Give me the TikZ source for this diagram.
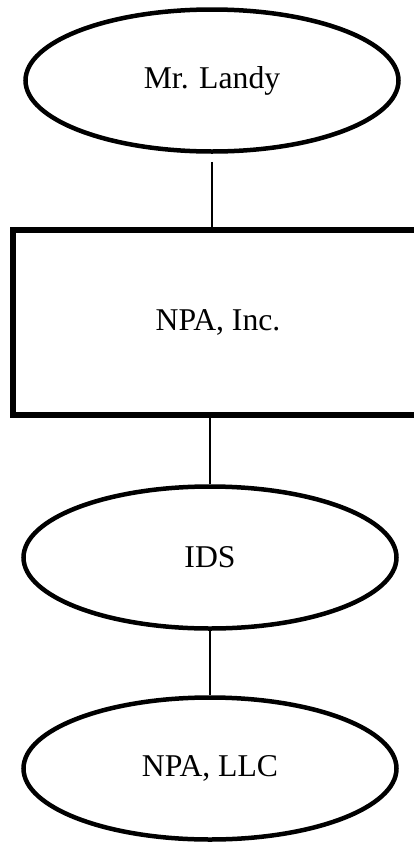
\documentclass[tikz,border=0pt]{standalone}
\usepackage{fontspec}
\setmainfont{Liberation Serif}
\usepackage{tikz}
\usetikzlibrary{shapes.geometric}

\tikzset{
    entity/.style={draw, ellipse, line width=4.5pt, inner sep=0pt, minimum width=373pt, minimum height=142pt, font=\fontsize{31.7}{38}\selectfont},
    corp/.style={draw, rectangle, line width=5.5pt, inner sep=0pt, minimum width=410pt, minimum height=185pt, font=\fontsize{31.7}{38}\selectfont},
    link/.style={line width=1.8pt}
}

\begin{document}
\begin{tikzpicture}[x=1pt, y=-1pt]
        \useasboundingbox (0, 0) rectangle (413, 844);
        % Draw the owner and the companies
        \node[entity] (landy) at (212, 80.5) {Mr. Landy};
        \node[corp] (inc) at (218, 322.5) {NPA, Inc.};
        \node[entity] (ids) at (210, 557.5) {IDS};
        \node[entity] (llc) at (210, 768.5) {NPA, LLC};

        % Connect them top to bottom
        \draw[link, shorten <=8pt] (landy.south) -- (landy.south |- inc.north);
        \draw[link] (ids.north) -- (ids.north |- inc.south);
        \draw[link] (ids.south) -- (llc.north);
    \end{tikzpicture}
\end{document}
